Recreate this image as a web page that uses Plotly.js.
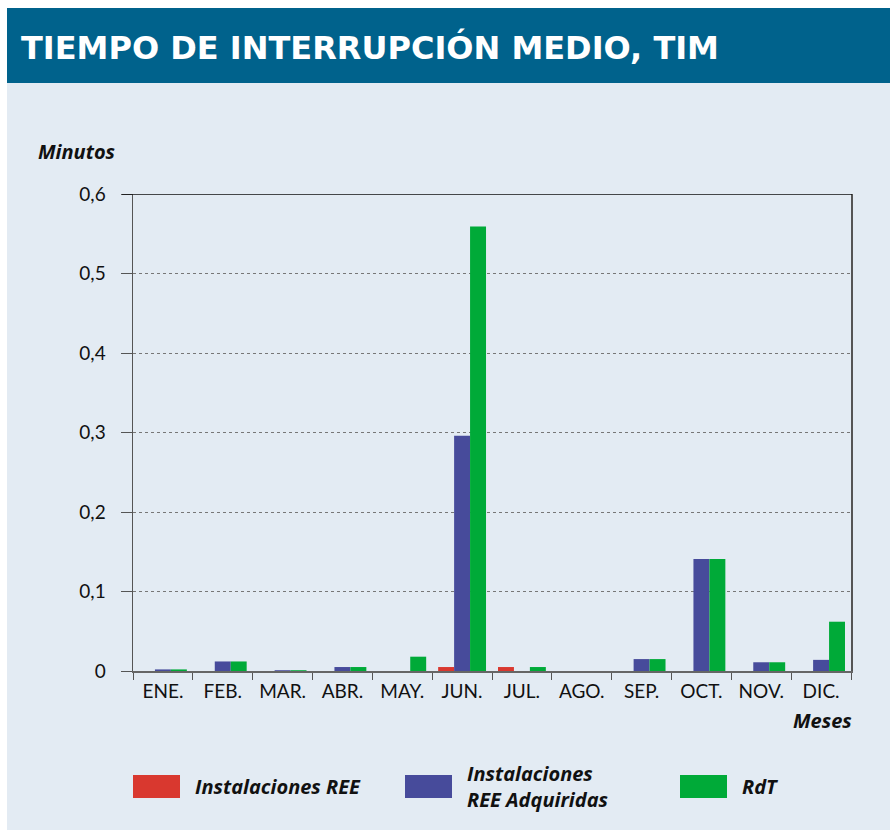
<!DOCTYPE html>
<html>
<head>
<meta charset="utf-8">
<script src="https://cdn.plot.ly/plotly-3.0.1.min.js"></script>
<style>
  body { margin: 0; padding: 0; background: #ffffff; }
  #tim-figure { width: 890px; height: 830px; }
</style>
</head>
<body>
<div id="tim-figure"></div>
<script>
// Values (minutes)
var months = ['ENE.', 'FEB.', 'MAR.', 'ABR.', 'MAY.', 'JUN.', 'JUL.', 'AGO.', 'SEP.', 'OCT.', 'NOV.', 'DIC.']
var series_names = ['Instalaciones REE', 'Instalaciones<br>REE Adquiridas', 'RdT']
var ree = [0, 0, 0, 0, 0, 0.005, 0.005, 0, 0, 0, 0, 0]
var ree_adquiridas = [0.002, 0.012, 0.001, 0.005, 0, 0.296, 0, 0, 0.015, 0.141, 0.011, 0.014]
var rdt = [0.002, 0.012, 0.001, 0.005, 0.018, 0.559, 0.005, 0, 0.015, 0.141, 0.011, 0.062]
var y_ticks = [0, 0.1, 0.2, 0.3, 0.4, 0.5, 0.6]

var colors = ['#d9382f', '#474b9b', '#00aa38']

function make_tim_figure() {
    var all_values = [ree, ree_adquiridas, rdt]
    var traces = all_values.map(function (vals, i) {
        return {
            x: months,
            y: vals,
            type: 'bar',
            name: series_names[i],
            marker: { color: colors[i], line: { width: 0 } },
            hoverinfo: 'x+y'
        }
    })

    // convert pixel positions to paper coordinates (plot area 133..851 x 194..671)
    function px(x) { return (x - 133) / 718 }
    function py(y) { return (671 - y) / 477 }

    var label_font = { family: '"Open Sans", sans-serif', size: 20, color: '#111111' }

    var shapes = [
        // header band and white borders
        { type: 'rect', xref: 'paper', yref: 'paper', x0: px(0), x1: px(890), y0: py(8), y1: py(-5),
          fillcolor: '#ffffff', line: { width: 0 }, layer: 'below' },
        { type: 'rect', xref: 'paper', yref: 'paper', x0: px(-5), x1: px(7), y0: py(835), y1: py(-5),
          fillcolor: '#ffffff', line: { width: 0 }, layer: 'below' },
        { type: 'rect', xref: 'paper', yref: 'paper', x0: px(7), x1: px(895), y0: py(83), y1: py(8),
          fillcolor: '#00628c', line: { width: 0 }, layer: 'below' },
        // top border at 0,6
        { type: 'line', xref: 'paper', yref: 'y', x0: px(122), x1: px(852), y0: 0.6, y1: 0.6,
          line: { color: '#111111', width: 1.5 } }
    ]

    var annotations = [
        { text: '<b>TIEMPO DE INTERRUPCIÓN MEDIO, TIM</b>', xref: 'paper', yref: 'paper',
          x: px(19), y: py(47), xanchor: 'left', yanchor: 'middle', showarrow: false,
          font: { family: '"DejaVu Sans", sans-serif', size: 32, color: '#ffffff' } },
        { text: '<b><i>Minutos</i></b>', xref: 'paper', yref: 'paper',
          x: px(36), y: py(151), xanchor: 'left', yanchor: 'middle', showarrow: false,
          font: label_font },
        { text: '<b><i>Meses</i></b>', xref: 'paper', yref: 'paper',
          x: px(854), y: py(720), xanchor: 'right', yanchor: 'middle', showarrow: false,
          font: label_font }
    ]

    // hand-made legend with large swatches
    var legend_x = [133, 405, 680]
    for (var i = 0; i < series_names.length; i++) {
        shapes.push({ type: 'rect', xref: 'paper', yref: 'paper',
            x0: px(legend_x[i]), x1: px(legend_x[i] + 47), y0: py(798), y1: py(775),
            fillcolor: colors[i], line: { width: 0 } })
        annotations.push({ text: '<b><i>' + series_names[i] + '</i></b>', xref: 'paper', yref: 'paper',
            x: px(legend_x[i] + 60), y: py(786), xanchor: 'left', yanchor: 'middle', align: 'left',
            showarrow: false, font: label_font })
    }

    var layout = {
        width: 890,
        height: 830,
        margin: { l: 133, r: 39, t: 194, b: 159 },
        paper_bgcolor: '#e3ebf3',
        plot_bgcolor: 'rgba(0,0,0,0)',
        separators: ',.',
        showlegend: false,
        barmode: 'group',
        bargap: 0.2,
        bargroupgap: 0,
        font: { family: 'Lato, sans-serif', size: 16, color: '#111111' },
        xaxis: {
            type: 'category',
            tickson: 'boundaries',
            ticks: 'outside',
            ticklen: 7,
            tickcolor: '#555555',
            ticklabelstandoff: 2,
            showline: true,
            linecolor: '#666666',
            linewidth: 2,
            showgrid: false,
            tickfont: { family: 'Lato, sans-serif', size: 19, color: '#111111' },
            fixedrange: true
        },
        yaxis: {
            range: [0, 0.6],
            tickvals: y_ticks,
            tickformat: '.1~f',
            ticks: 'outside',
            ticklen: 11,
            tickcolor: '#555555',
            ticklabelstandoff: 11,
            showline: true,
            linecolor: '#555555',
            linewidth: 1.5,
            mirror: true,
            showgrid: true,
            gridcolor: '#777777',
            griddash: 'dot',
            gridwidth: 1,
            zeroline: false,
            tickfont: { family: 'Lato, sans-serif', size: 19, color: '#111111' },
            fixedrange: true
        },
        shapes: shapes,
        annotations: annotations
    }

    Plotly.newPlot('tim-figure', traces, layout, { displayModeBar: false, staticPlot: true })
}

make_tim_figure()
</script>
</body>
</html>
